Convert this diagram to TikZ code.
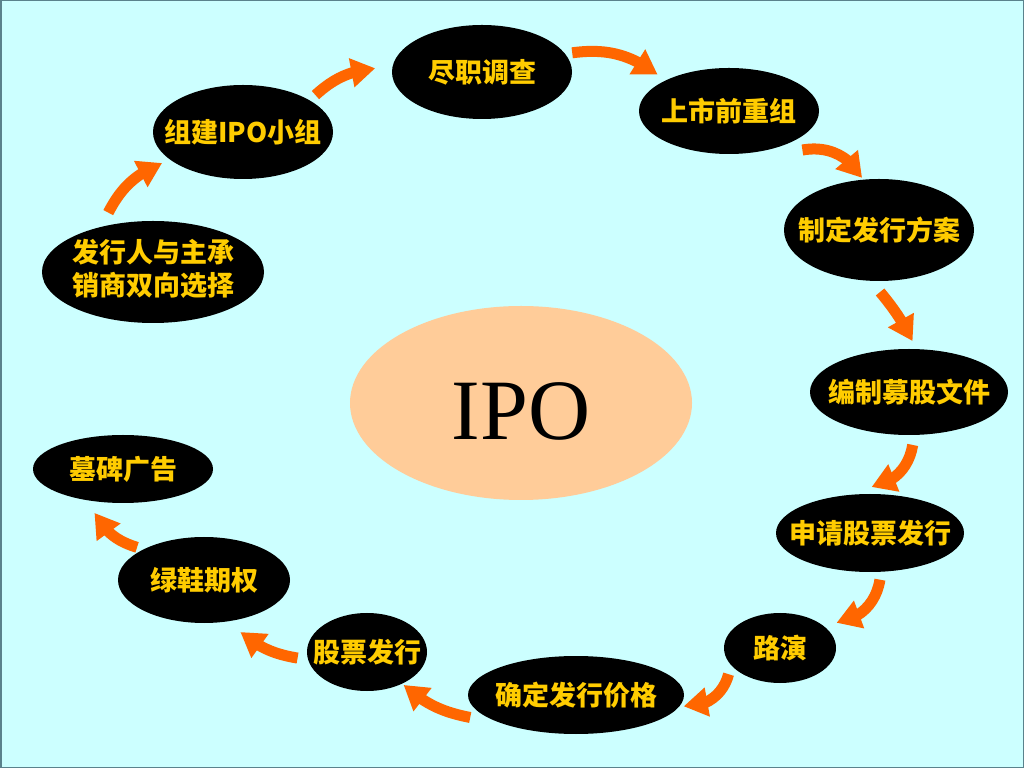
\documentclass[tikz,border=0pt]{standalone}
\usepackage{fontspec}
\setmainfont{Liberation Serif}
\newfontfamily\cjk{Noto Sans CJK SC}
\usetikzlibrary{shapes.geometric,arrows.meta,bending}
\definecolor{bgcyan}{RGB}{204,255,255}
\definecolor{gold}{RGB}{255,204,0}
\definecolor{arrorange}{RGB}{255,102,0}
\definecolor{peach}{RGB}{255,204,153}
\definecolor{framecol}{RGB}{90,130,140}
\tikzset{
  stage/.style={ellipse, fill=black, inner sep=0pt, outer sep=0pt, text=gold,
    font=\cjk\bfseries\fontsize{27}{33}\selectfont},
  flow/.style={draw=arrorange, line width=11pt,
    -{Triangle[length=24pt,width=28pt,flex]}},
}
\begin{document}
\begin{tikzpicture}[x=1pt,y=1pt]
\useasboundingbox (0,0) rectangle (1024,768);
\fill[bgcyan] (0,0) rectangle (1024,768);
\draw[framecol, line width=1.5pt] (0.75,0.75) rectangle (1023.25,767.25);

% central node
\node[ellipse, fill=peach, inner sep=0pt, outer sep=0pt, minimum width=342, minimum height=194,
  font=\fontsize{86}{86}\selectfont] (ipo) at (521,365) {\makebox[0pt]{\raisebox{-37pt}[0pt][0pt]{IPO}}};

% stages
\node[stage, minimum width=222, minimum height=102] (fx) at (153,496)
  {\makebox[0pt]{\begin{tabular}{@{}c@{}}发行人与主承\\销商双向选择\end{tabular}}};
\node[stage, minimum width=180, minimum height=94] (zj) at (243,636) {\makebox[0pt]{组建IPO小组}};
\node[stage, minimum width=180, minimum height=94] (dd) at (482,696) {\makebox[0pt]{尽职调查}};
\node[stage, minimum width=180, minimum height=86] (ss) at (729,657) {\makebox[0pt]{上市前重组}};
\node[stage, minimum width=190, minimum height=102] (zd) at (879,538) {\makebox[0pt]{制定发行方案}};
\node[stage, minimum width=198, minimum height=86] (bz) at (909,376) {\makebox[0pt]{编制募股文件}};
\node[stage, minimum width=188, minimum height=78] (sq) at (870,235) {\makebox[0pt]{申请股票发行}};
\node[stage, minimum width=112, minimum height=70] (ly) at (780,120) {\makebox[0pt]{路演}};
\node[stage, minimum width=216, minimum height=78] (qd) at (576,73) {\makebox[0pt]{确定发行价格}};
\node[stage, minimum width=120, minimum height=78] (gp) at (367,116) {\makebox[0pt]{股票发行}};
\node[stage, minimum width=172, minimum height=86] (lx) at (204,188) {\makebox[0pt]{绿鞋期权}};
\node[stage, minimum width=180, minimum height=68] (mb) at (123,299) {\makebox[0pt]{墓碑广告}};

% arrows
\draw[flow] ([shift={(127:14)}]fx.127) to[bend left=20] ([shift={(201:9)}]zj.201);
\draw[flow] ([shift={(27:9)}]zj.27) to[bend left=18] ([shift={(178:17)}]dd.178);
\draw[flow] ([shift={(12:7)}]dd.12) to[bend left=22] ([shift={(153:11)}]ss.153);
\draw[flow] ([shift={(332:15)}]ss.332) to[bend left=35] ([shift={(108:2)}]zd.108);
\draw[flow] ([shift={(271:11)}]zd.271) to[bend left=6] ([shift={(86:8)}]bz.86);
\draw[flow] ([shift={(274:10)}]bz.274) to[bend left=35] ([shift={(88:7)}]sq.88);
\draw[flow] ([shift={(282:8)}]sq.282) to[bend left=36] ([shift={(24:12)}]ly.24);
\draw[flow] ([shift={(207:9)}]ly.207) to[bend left=40] ([shift={(354:4)}]qd.354);
\draw[flow] ([shift={(192:13)}]qd.192) to[bend left=15] ([shift={(318:2)}]gp.318);
\draw[flow] ([shift={(185:10)}]gp.185) to[bend left=15] ([shift={(305:14)}]lx.305);
\draw[flow] ([shift={(154:6)}]lx.154) to[bend left=22] ([shift={(237:13)}]mb.237);
\end{tikzpicture}
\end{document}
